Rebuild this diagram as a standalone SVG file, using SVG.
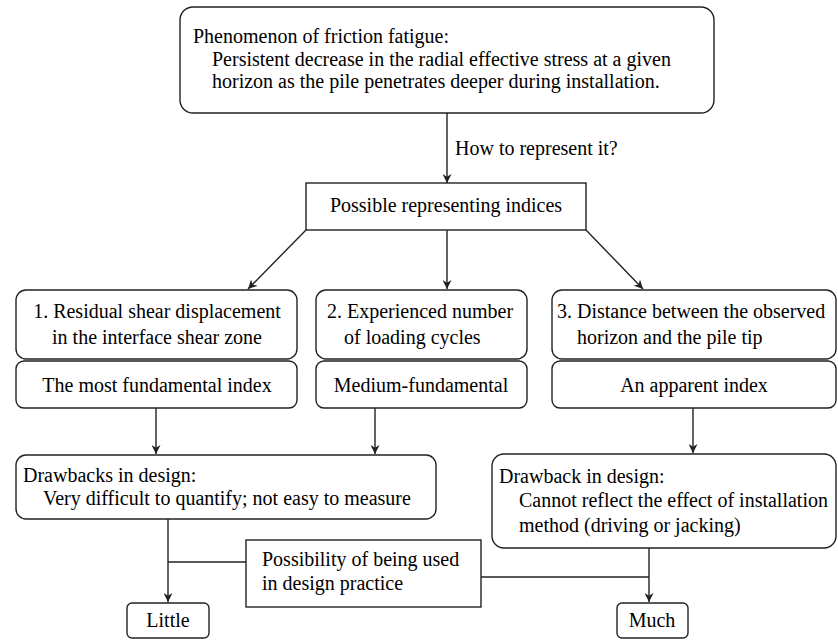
<svg xmlns="http://www.w3.org/2000/svg" width="838" height="640" viewBox="0 0 838 640">
<style>
  .box { fill: #fff; stroke: #222; stroke-width: 1.4; }
  .ln { fill: none; stroke: #222; stroke-width: 1.4; }
  .c { text-anchor: middle; }
</style>
<defs>
  <marker id="ah" viewBox="0 0 10 10" refX="10" refY="5" markerWidth="9" markerHeight="9" markerUnits="userSpaceOnUse" orient="auto">
    <path d="M0,0 L10,5 L0,10 L3,5 Z" fill="#222"/>
  </marker>
</defs>
<rect width="838" height="640" fill="#fff"/>
<g id="connectors">
  <line class="ln" x1="447" y1="113" x2="447" y2="183" marker-end="url(#ah)"/>
  <line class="ln" x1="306" y1="230" x2="248" y2="289" marker-end="url(#ah)"/>
  <line class="ln" x1="447" y1="230" x2="447" y2="289" marker-end="url(#ah)"/>
  <line class="ln" x1="586" y1="230" x2="643" y2="289" marker-end="url(#ah)"/>
  <line class="ln" x1="156" y1="408" x2="156" y2="454" marker-end="url(#ah)"/>
  <line class="ln" x1="375" y1="408" x2="375" y2="454" marker-end="url(#ah)"/>
  <line class="ln" x1="693" y1="408" x2="693" y2="453" marker-end="url(#ah)"/>
  <line class="ln" x1="168" y1="519" x2="168" y2="602" marker-end="url(#ah)"/>
  <line class="ln" x1="168" y1="562" x2="246" y2="562"/>
  <line class="ln" x1="649" y1="548" x2="649" y2="602" marker-end="url(#ah)"/>
  <line class="ln" x1="481" y1="577" x2="649" y2="577"/>
  <text x="455" y="155" font-family="Liberation Serif" font-size="20">How to represent it?</text>
</g>

<g id="phenomenon">
  <rect class="box" x="180" y="7" width="534" height="106" rx="13"/>
  <text x="193" y="43" font-family="Liberation Serif" font-size="20">Phenomenon of friction fatigue:</text>
  <text x="212" y="66" font-family="Liberation Serif" font-size="20">Persistent decrease in the radial effective stress at a given</text>
  <text x="212" y="88" font-family="Liberation Serif" font-size="20">horizon as the pile penetrates deeper during installation.</text>
</g>

<g id="indices">
  <rect class="box" x="306" y="183" width="280" height="47"/>
  <text class="c" x="446" y="212" font-family="Liberation Serif" font-size="20">Possible representing indices</text>
</g>

<g id="index1">
  <rect class="box" x="16" y="290" width="281" height="69" rx="10"/>
  <text class="c" x="157" y="318" font-family="Liberation Serif" font-size="20">1. Residual shear displacement</text>
  <text class="c" x="157" y="344" font-family="Liberation Serif" font-size="20">in the interface shear zone</text>
</g>
<g id="index1b">
  <rect class="box" x="16" y="361" width="281" height="47" rx="8"/>
  <text class="c" x="157" y="392" font-family="Liberation Serif" font-size="20">The most fundamental index</text>
</g>

<g id="index2">
  <rect class="box" x="316" y="290" width="211" height="69" rx="10"/>
  <text x="327" y="318" font-family="Liberation Serif" font-size="20">2. Experienced number</text>
  <text x="344" y="344" font-family="Liberation Serif" font-size="20">of loading cycles</text>
</g>
<g id="index2b">
  <rect class="box" x="316" y="361" width="211" height="47" rx="8"/>
  <text class="c" x="421" y="392" font-family="Liberation Serif" font-size="20">Medium-fundamental</text>
</g>

<g id="index3">
  <rect class="box" x="552" y="290" width="284" height="69" rx="10"/>
  <text x="557" y="318" font-family="Liberation Serif" font-size="20">3. Distance between the observed</text>
  <text x="577" y="344" font-family="Liberation Serif" font-size="20">horizon and the pile tip</text>
</g>
<g id="index3b">
  <rect class="box" x="552" y="361" width="284" height="47" rx="8"/>
  <text class="c" x="694" y="392" font-family="Liberation Serif" font-size="20">An apparent index</text>
</g>

<g id="drawbacks1">
  <rect class="box" x="16" y="455" width="420" height="64" rx="10"/>
  <text x="23" y="482" font-family="Liberation Serif" font-size="20">Drawbacks in design:</text>
  <text x="43" y="505" font-family="Liberation Serif" font-size="20">Very difficult to quantify; not easy to measure</text>
</g>

<g id="drawback3">
  <rect class="box" x="492" y="454" width="344" height="94" rx="12"/>
  <text x="499" y="483" font-family="Liberation Serif" font-size="20">Drawback in design:</text>
  <text x="519" y="507" font-family="Liberation Serif" font-size="20">Cannot reflect the effect of installation</text>
  <text x="519" y="532" font-family="Liberation Serif" font-size="20">method (driving or jacking)</text>
</g>

<g id="possibility">
  <rect class="box" x="246" y="540" width="235" height="67"/>
  <text x="262" y="566" font-family="Liberation Serif" font-size="20">Possibility of being used</text>
  <text x="262" y="590" font-family="Liberation Serif" font-size="20">in design practice</text>
</g>

<g id="little">
  <rect class="box" x="127" y="603" width="82" height="35" rx="5"/>
  <text class="c" x="168" y="627" font-family="Liberation Serif" font-size="20">Little</text>
</g>

<g id="much">
  <rect class="box" x="617" y="603" width="71" height="35" rx="5"/>
  <text class="c" x="652" y="627" font-family="Liberation Serif" font-size="20">Much</text>
</g>
</svg>
